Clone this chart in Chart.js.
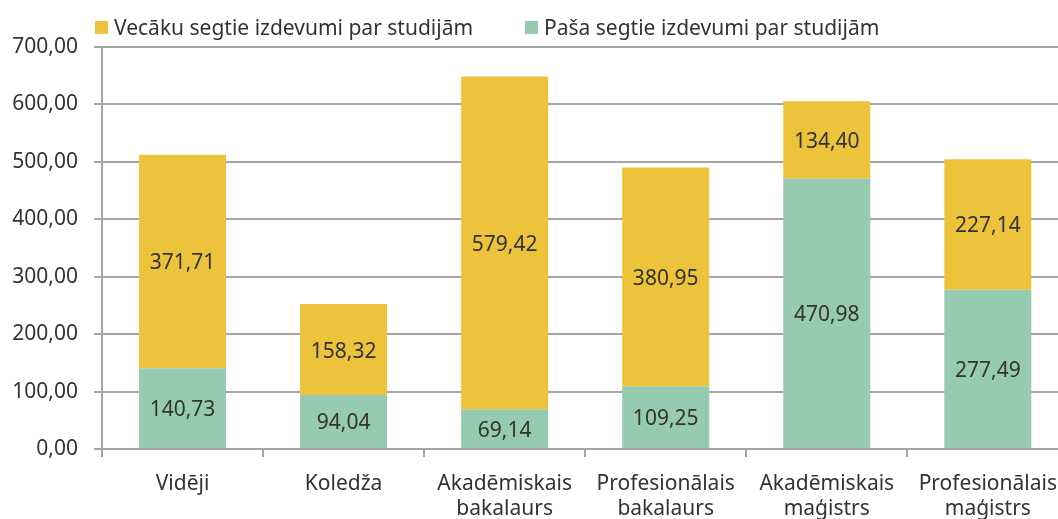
<!DOCTYPE html>
<html lang="lv">
<head>
<meta charset="utf-8">
<script src="https://cdn.jsdelivr.net/npm/chart.js@4"></script>
<style>
  html, body { margin: 0; padding: 0; background: #fff; overflow: hidden; }
  #wrap { position: relative; width: 1058px; height: 519px; overflow: hidden; }
  #box { position: absolute; left: 0; top: 0; width: 1071px; height: 530px; }
  #legend { position: absolute; top: 0; left: 0; font: 21px "Noto Sans", sans-serif; color: #333; z-index: 2; }
  #legend span.item { position: absolute; top: 13px; display: flex; align-items: center; white-space: nowrap; }
  #legend span.sw { display: inline-block; width: 13px; height: 13px; margin-right: 6px; }
</style>
</head>
<body>
<div id="wrap">
  <div id="legend"></div>
  <div id="box"><canvas id="c"></canvas></div>
</div>
<script>
// Izglītības līmeņi
const categories = [
  ['Vidēji'],
  ['Koledža'],
  ['Akadēmiskais', 'bakalaurs'],
  ['Profesionālais', 'bakalaurs'],
  ['Akadēmiskais', 'maģistrs'],
  ['Profesionālais', 'maģistrs']
];
// Pašu segtie izdevumi (apakšējā daļa)
const ownCosts = [140.73, 94.04, 69.14, 109.25, 470.98, 277.49];
// Vecāku segtie izdevumi (augšējā daļa)
const parentCosts = [371.71, 158.32, 579.42, 380.95, 134.40, 227.14];
const yTicks = [0, 100, 200, 300, 400, 500, 600, 700];

const seriesNames = ['Vecāku segtie izdevumi par studijām', 'Paša segtie izdevumi par studijām'];
const colYellow = '#ECC33B';
const colGreen = '#97CBB0';
const FONT = '"Noto Sans", sans-serif';

const fmt = v => v.toFixed(2).replace('.', ',');

// Leģenda
const legend = document.getElementById('legend');
[[seriesNames[0], colYellow, 95], [seriesNames[1], colGreen, 525]].forEach(([t, c, left]) => {
  const s = document.createElement('span');
  s.className = 'item';
  s.style.left = left + 'px';
  s.innerHTML = '<span class="sw" style="background:' + c + '"></span>' + t;
  legend.appendChild(s);
});

// Vērtību uzraksti segmentu centrā
const segmentLabels = {
  id: 'segmentLabels',
  afterDatasetsDraw(chart) {
    const ctx = chart.ctx;
    ctx.save();
    ctx.font = '21px ' + FONT;
    ctx.fillStyle = '#333';
    ctx.textAlign = 'center';
    ctx.textBaseline = 'middle';
    chart.data.datasets.forEach((ds, i) => {
      chart.getDatasetMeta(i).data.forEach((bar, j) => {
        const p = bar.getProps(['x', 'y', 'base'], true);
        ctx.fillText(fmt(ds.data[j]), p.x, (p.y + p.base) / 2 + 2);
      });
    });
    ctx.restore();
  }
};

new Chart(document.getElementById('c'), {
  type: 'bar',
  data: {
    labels: categories,
    datasets: [
      { label: seriesNames[1], data: ownCosts, backgroundColor: colGreen, borderWidth: 0 },
      { label: seriesNames[0], data: parentCosts, backgroundColor: colYellow, borderWidth: 0 }
    ]
  },
  options: {
    responsive: true,
    maintainAspectRatio: false,
    animation: false,
    events: [],
    layout: { padding: { top: 47, left: 0, right: 0, bottom: 0 } },
    datasets: { bar: { categoryPercentage: 1, barPercentage: 0.54 } },
    plugins: { legend: { display: false }, tooltip: { enabled: false } },
    scales: {
      x: {
        stacked: true,
        afterFit(s) { s.height = 530 - 449; },
        border: { display: true, color: '#a6a6a6', width: 2 },
        grid: { display: true, drawOnChartArea: false, drawTicks: true, tickLength: 8, color: '#a6a6a6', lineWidth: 2, offset: true },
        ticks: { font: { family: FONT, size: 21, lineHeight: 1.22 }, color: '#333', padding: 14, maxRotation: 0, autoSkip: false }
      },
      y: {
        stacked: true,
        min: 0, max: 700,
        afterFit(s) { s.width = 102; },
        afterBuildTicks(s) { s.ticks = yTicks.map(v => ({ value: v })); },
        border: { display: true, color: '#a6a6a6', width: 2 },
        grid: { color: '#a6a6a6', lineWidth: 2, tickLength: 8 },
        ticks: { font: { family: FONT, size: 21 }, color: '#333', padding: 16, callback: v => fmt(v) }
      }
    }
  },
  plugins: [segmentLabels]
});
</script>
</body>
</html>
